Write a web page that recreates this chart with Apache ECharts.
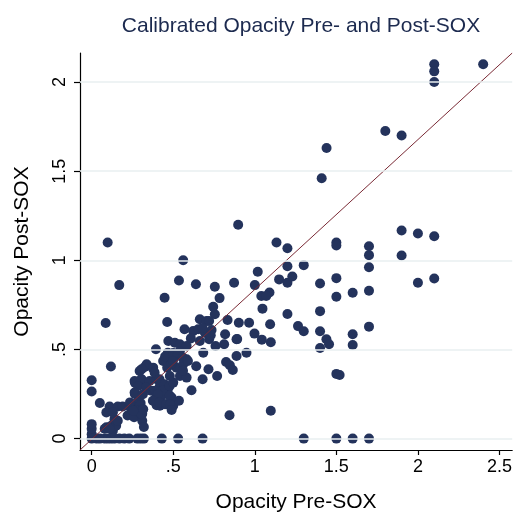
<!DOCTYPE html>
<html>
<head>
<meta charset="utf-8">
<script src="https://cdn.jsdelivr.net/npm/echarts@6/dist/echarts.min.js"></script>
<style>
html,body{margin:0;padding:0;background:#fff;}
#chart{width:515px;height:518px;}
</style>
</head>
<body>
<div id="chart"></div>
<script>
const titleText = 'Calibrated Opacity Pre- and Post-SOX';
const xName = 'Opacity Pre-SOX';
const yName = 'Opacity Post-SOX';
const xTicks = [0, 0.5, 1, 1.5, 2, 2.5];
const yTicks = [0, 0.5, 1, 1.5, 2];
const xRange = [-0.0716, 2.578];
const yRange = [-0.064, 2.163];

// Opacity Pre-SOX values
const preSOX = [
  0,0.03,0.05,0.08,0.10,0.12,0.14,0.17,0.20,0.23,0.28,0.30,0.32,0.43,0.53,0.68,1.30,1.50,1.60,1.70,
  0,0,0,0,0,
  0.05,0.09,0.13,0.12,0.15,0.14,0.16,0.08,0.11,
  0.11,0.16,0.19,0.09,0.13,0.23,0.22,0.26,0.30,0.25,0.27,0.28,0.31,0.26,
  0.31,0.32,
  0.118,0.086,0.098,0.169,
  0.265,0.286,0.296,0.276,0.306,0.316,0.235,0.255,
  0.265,0.306,0.316,0.294,0.325,0.375,0.337,0.377,0.306,
  0.263,0.304,0.355,0.284,0.334,0.263,0.314,0.365,
  0.398,0.418,0.429,0.388,0.459,0.469,0.429,0.398,0.49,0.5,0.449,0.418,0.535,0.398,
  0.386,0.416,0.447,0.467,0.437,0.406,0.375,0.416,0.457,0.487,
  0.478,0.478,0.48,0.49,0.5,0.612,
  0.447,0.463,0.394,0.467,0.47,0.51,0.541,0.582,0.541,0.438,0.49,0.541,0.582,0.463,0.52,0.561,0.479,0.541,0.582,0.641,
  0.45,0.50,0.49,0.56,0.528,0.559,0.498,0.59,
  0.535,0.639,0.561,
  0.569,0.622,0.653,0.694,0.735,0.608,0.663,0.72,
  0.663,0.704,0.755,0.745,0.784,0.755,0.72,0.68,0.73,
  0.818,0.812,0.759,0.888,0.998,0.949,0.888,0.824,0.847,0.865,0.769,0.716,0.68,0.684,0.833,0.902,0.965,1.043,1.098,1.094,0.892,
  0.873,0.898,1.00,1.018,1.133,1.20,1.20,1.30,1.149,1.20,1.23,1.40,1.50,1.50,1.60,1.04,1.09,1.07,1.047,1.20,1.40,1.265,1.30,1.40,1.439,1.455,1.40,1.60,1.60,1.50,1.52,0.845,1.098,
  1.50,1.50,1.70,1.70,1.70,1.70,1.70,
  1.41,1.44,
  1.80,1.90,1.90,2.00,2.10,1.90,2.00,2.10,2.10,2.10,2.10,2.40
];
// Opacity Post-SOX values
const postSOX = [
  0,0,0,0,0,0,0,0,0,0,0,0,0,0,0,0,0,0,0,0,
  0.025,0.055,0.081,0.264,0.327,
  0.20,0.063,0.044,0.072,0.072,0.109,0.10,0.055,0.055,
  0.18,0.18,0.18,0.147,0.147,0.18,0.13,0.18,0.20,0.16,0.16,0.13,0.14,0.12,
  0.10,0.065,
  0.404,0.648,1.10,0.861,
  0.25,0.21,0.185,0.156,0.137,0.165,0.203,0.156,
  0.314,0.333,0.305,0.379,0.402,0.394,0.417,0.398,0.389,
  0.323,0.333,0.323,0.295,0.286,0.258,0.249,0.268,
  0.333,0.295,0.268,0.268,0.277,0.249,0.240,0.249,0.231,0.184,0.193,0.184,0.212,0.187,
  0.37,0.333,0.305,0.277,0.268,0.249,0.212,0.203,0.193,0.231,
  0.295,0.24,0.19,0.16,0.314,0.271,
  0.79,0.654,0.501,0.482,0.547,0.538,0.529,0.519,0.491,0.435,0.445,0.463,0.445,0.398,0.398,0.417,0.351,0.351,0.342,0.406,
  0.46,0.48,0.42,0.38,0.473,0.454,0.435,0.435,
  0.887,0.866,1.00,
  0.613,0.603,0.613,0.594,0.609,0.562,0.547,0.557,
  0.669,0.659,0.697,0.74,0.788,0.852,0.66,0.62,0.58,
  0.585,0.529,0.519,0.557,0.589,0.482,0.463,0.43,0.411,0.385,0.351,0.389,0.333,0.482,0.665,0.65,0.65,0.555,0.54,0.641,0.558,
  0.874,1.20,0.861,0.936,1.10,1.068,0.967,0.973,0.893,0.874,0.909,0.87,0.90,0.796,0.818,0.80,0.82,0.80,0.729,0.699,0.715,0.631,0.602,0.602,0.557,0.529,0.508,0.585,0.525,0.363,0.357,0.131,0.156,
  1.10,1.083,1.079,1.029,0.961,0.829,0.628,
  1.46,1.63,
  1.725,1.70,1.167,1.15,1.135,1.027,0.874,0.898,2.10,2.06,2.00,2.10
];
// reference diagonal (corner to corner of plot region)
const diagonalX = [-0.0716, 2.578];
const diagonalY = [-0.064, 2.163];

const points = preSOX.map((x, i) => [x, postSOX[i]]);
const diag = diagonalX.map((x, i) => [x, diagonalY[i]]);

function fmt(v) {
  if (Math.abs(v) < 1e-9) return '0';
  return String(+v.toFixed(2)).replace(/^0\./, '.');
}

const chart = echarts.init(document.getElementById('chart'), null, {renderer: 'canvas'});
const FONT = 'Liberation Sans, Arial, sans-serif';
chart.setOption({
  backgroundColor: '#ffffff',
  animation: false,
  title: {
    text: titleText,
    left: 296, top: 11, textAlign: 'center',
    textStyle: {color: '#1c2a4f', fontSize: 21, fontWeight: 'normal', fontFamily: FONT}
  },
  grid: {left: 80, right: 2, top: 53, bottom: 67, containLabel: false},
  xAxis: {
    type: 'value', min: xRange[0], max: xRange[1],
    name: xName, nameLocation: 'middle', nameGap: 42,
    nameTextStyle: {color: '#000', fontSize: 21, fontFamily: FONT},
    axisLine: {show: true, onZero: false, lineStyle: {color: '#000', width: 1.2}},
    axisTick: {show: true, length: 5, customValues: xTicks, lineStyle: {color: '#000', width: 1.2}},
    axisLabel: {customValues: xTicks, formatter: fmt, color: '#000', fontSize: 18, fontFamily: FONT, margin: 8},
    splitLine: {show: false}
  },
  yAxis: {
    type: 'value', min: yRange[0], max: yRange[1],
    name: yName, nameLocation: 'middle', nameGap: 47, nameRotate: 90,
    nameTextStyle: {color: '#000', fontSize: 21, fontFamily: FONT},
    axisLine: {show: true, onZero: false, lineStyle: {color: '#000', width: 1.2}},
    axisTick: {show: true, length: 6, customValues: yTicks, lineStyle: {color: '#000', width: 1.2}},
    axisLabel: {customValues: yTicks, formatter: fmt, rotate: 90, color: '#000', fontSize: 18, fontFamily: FONT, margin: 11},
    splitLine: {show: false}
  },
  series: [
    {
      type: 'scatter', data: [], z: 1, silent: true,
      markLine: {
        silent: true, symbol: 'none', label: {show: false},
        lineStyle: {color: '#e8eff0', width: 1.6, type: 'solid'},
        data: yTicks.map(v => ({yAxis: v}))
      }
    },
    {
      type: 'scatter', data: points, symbol: 'circle', symbolSize: 10, z: 3,
      itemStyle: {color: '#24335c', opacity: 1}
    },
    {
      type: 'line', data: diag, symbol: 'none', z: 4,
      lineStyle: {color: '#7a2a35', width: 1}
    }
  ]
});
</script>
</body>
</html>
